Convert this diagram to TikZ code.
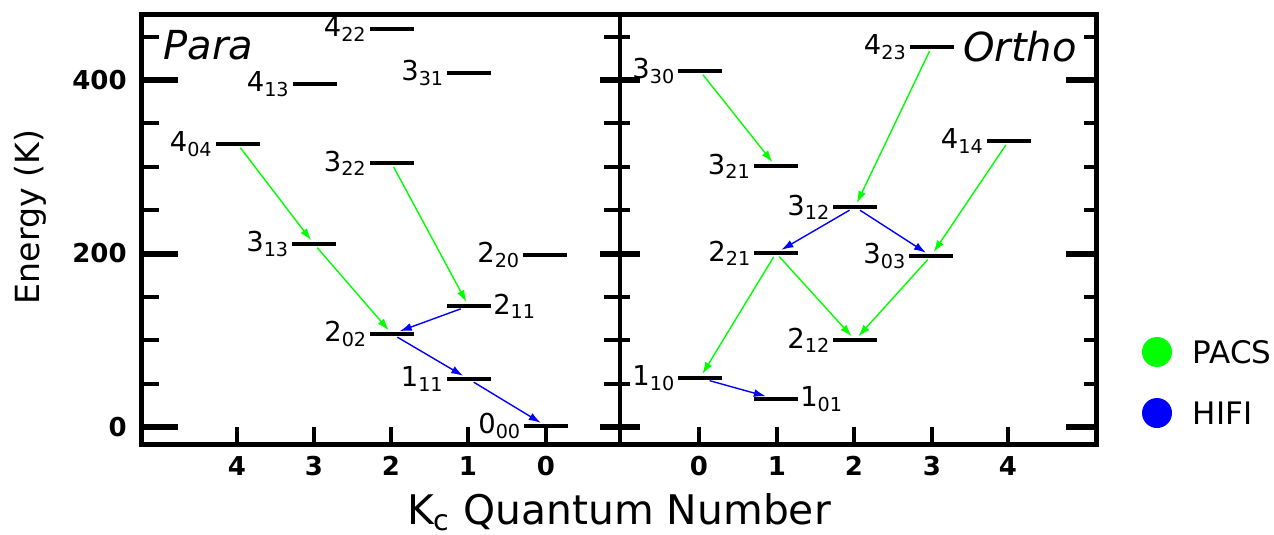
\documentclass[tikz,border=0pt]{standalone}
\usepackage{fontspec}
\setmainfont{DejaVu Sans}[ItalicFont={DejaVu Sans Oblique},BoldFont={DejaVu Sans Bold}]
\usetikzlibrary{positioning,arrows.meta}

\definecolor{pacsgreen}{RGB}{0,255,0}
\definecolor{hifiblue}{RGB}{0,0,255}
\newcommand{\qn}[2]{#1\textsubscript{#2}}

\tikzset{
  lbl/.style={font=\fontsize{13.7}{16}\selectfont, inner sep=1pt},
  bar/.style={fill=black, inner sep=0pt, minimum width=22pt, minimum height=1.75pt},
  level/.style={bar, label distance=0pt, label={[lbl]left:#1}},
  levelr/.style={bar, label distance=2pt, label={[lbl]right:#1}},
  ticklbl/.style={font=\bfseries\fontsize{13}{15}\selectfont, inner sep=0pt},
  pacs/.style={draw=pacsgreen, line width=0.7pt, -{Latex[length=6pt,width=4pt]},
    shorten <=1pt, shorten >=1pt},
  hifi/.style={pacs, draw=hifiblue},
  legtxt/.style={font=\fontsize{15.5}{18}\selectfont, inner sep=0pt}
}

\begin{document}
\begin{tikzpicture}[x=0.5pt, y=-0.5pt]
  \useasboundingbox (0,0) rectangle (1274,535);

  % Frame and divider
  \draw[line width=2.5pt] (141,15) rectangle (1096,444);
  \draw[line width=2pt] (620,15) -- (620,444);

  % Energy ticks
  \foreach \e in {50,100,150,250,300,350,450}{
    \draw[line width=2pt] (141,{427-0.8675*\e}) -- ++(18,0);
    \draw[line width=2pt] (604,{427-0.8675*\e}) -- (630,{427-0.8675*\e});
    \draw[line width=2pt] (1096,{427-0.8675*\e}) -- ++(-12,0);
  }
  \foreach \e in {0,200,400}{
    \draw[line width=3pt] (141,{427-0.8675*\e}) -- ++(37,0);
    \draw[line width=3pt] (600,{427-0.8675*\e}) -- (640,{427-0.8675*\e});
    \draw[line width=3pt] (1096,{427-0.8675*\e}) -- ++(-30,0);
    \node[ticklbl, anchor=east] (ytick\e) at (127,{427-0.8675*\e}) {\e};
  }

  % Kc ticks
  \foreach \k/\x in {4/237,3/314,2/391,1/468,0/546}{
    \draw[line width=2pt] (\x,427) -- (\x,444);
    \node[ticklbl] (pk\k) at (\x,466) {\k};
  }
  \foreach \k/\x in {0/699,1/777,2/854,3/932,4/1008}{
    \draw[line width=2pt] (\x,427) -- (\x,444);
    \node[ticklbl] (ok\k) at (\x,466) {\k};
  }

  % Axis titles
  \node[font=\fontsize{16.6}{20}\selectfont, rotate=90] (ylab) at (30,217) {Energy (K)};
  \node[font=\fontsize{20.4}{24}\selectfont, anchor=base, inner sep=0pt] (xlab) at (619,524)
    {K\textsubscript{c} Quantum Number};
  \node[font=\itshape\fontsize{20}{24}\selectfont, anchor=west, inner sep=0pt] (para) at (163,45) {Para};
  \node[font=\itshape\fontsize{20}{24}\selectfont, anchor=east, inner sep=0pt] (ortho) at (1077,47) {Ortho};

  % Para levels
  \node[level={\qn{4}{22}}] (p422) at (391.5,29) {};
  \node[level={\qn{4}{13}}] (p413) at (314.5,84) {};
  \node[level={\qn{3}{31}}] (p331) at (469,73) {};
  \node[level={\qn{4}{04}}] (p404) at (237.5,144) {};
  \node[level={\qn{3}{22}}] (p322) at (391.5,163) {};
  \node[level={\qn{3}{13}}] (p313) at (314,244) {};
  \node[level={\qn{2}{20}}] (p220) at (545,255) {};
  \node[levelr={\qn{2}{11}}] (p211) at (468.5,306) {};
  \node[level={\qn{2}{02}}] (p202) at (392,334) {};
  \node[level={\qn{1}{11}}] (p111) at (468.5,379) {};
  \node[level={\qn{0}{00}}] (p000) at (546,426) {};

  % Ortho levels
  \node[level={\qn{4}{23}}] (o423) at (931.5,47) {};
  \node[level={\qn{3}{30}}] (o330) at (700,71) {};
  \node[level={\qn{4}{14}}] (o414) at (1008.5,141) {};
  \node[level={\qn{3}{21}}] (o321) at (775.5,166) {};
  \node[level={\qn{3}{12}}] (o312) at (855,207) {};
  \node[level={\qn{2}{21}}] (o221) at (776,253) {};
  \node[level={\qn{3}{03}}] (o303) at (931,256) {};
  \node[level={\qn{2}{12}}] (o212) at (855,340) {};
  \node[level={\qn{1}{10}}] (o110) at (700,378) {};
  \node[levelr={\qn{1}{01}}] (o101) at (775.5,399) {};

  % PACS lines
  \draw[pacs] (p404) -- (p313);
  \draw[pacs] (p313) -- (p202);
  \draw[pacs] (p322) -- (p211);
  \draw[pacs] (o330) -- (o321);
  \draw[pacs] (o423) -- (o312);
  \draw[pacs] (o414) -- (o303);
  \draw[pacs] (o221) -- (o110);
  \draw[pacs] (o221) -- (o212);
  \draw[pacs] (o303) -- (o212);

  % HIFI lines
  \draw[hifi] (p211) -- (p202);
  \draw[hifi] (p202) -- (p111);
  \draw[hifi] (p111) -- (p000);
  \draw[hifi] (o312) -- (o221);
  \draw[hifi] (o312) -- (o303);
  \draw[hifi] (o110) -- (o101);

  % Legend
  \node[circle, fill=pacsgreen, minimum size=15pt, inner sep=0pt] (legpacs) at (1157,352) {};
  \node[legtxt, right=10pt of legpacs] (pacstxt) {PACS};
  \node[circle, fill=hifiblue, minimum size=15pt, inner sep=0pt] (leghifi) at (1157,413) {};
  \node[legtxt, right=10pt of leghifi] (hifitxt) {HIFI};
\end{tikzpicture}
\end{document}
